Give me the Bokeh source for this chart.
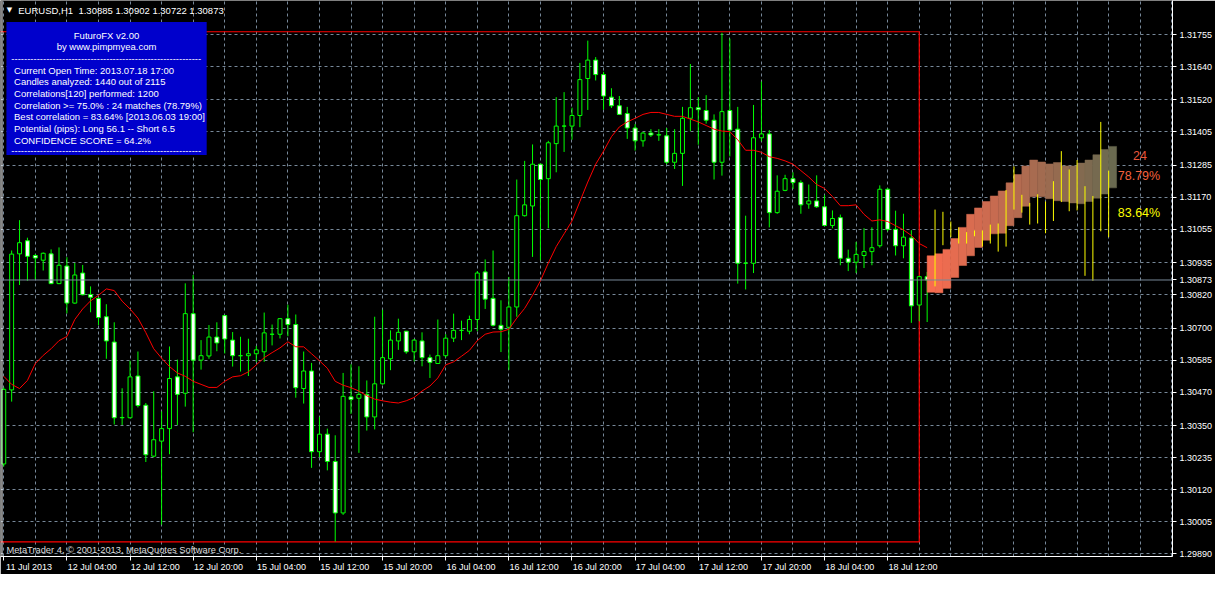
from bokeh.plotting import figure
from bokeh.models import Range1d, FixedTicker, Span, Label, BoxAnnotation, ColumnDataSource
from bokeh.embed import file_html
from bokeh.resources import INLINE

# ---------------- data (EURUSD H1) ----------------
opens = [1.30212, 1.30478, 1.30967, 1.31014, 1.30961, 1.30944, 1.30967, 1.30860, 1.30923, 1.30790,
         1.30898, 1.30821, 1.30807, 1.30741, 1.30650, 1.30378, 1.30378, 1.30528, 1.30423, 1.30240,
         1.30294, 1.30339, 1.30525, 1.30466, 1.30752, 1.30585, 1.30600, 1.30668, 1.30745, 1.30657,
         1.30601, 1.30601, 1.30608, 1.30615, 1.30678, 1.30678, 1.30734, 1.30713, 1.30483, 1.30546,
         1.30256, 1.30319, 1.30221, 1.30036, 1.30453, 1.30448, 1.30462, 1.30381, 1.30500, 1.30590,
         1.30654, 1.30689, 1.30615, 1.30654, 1.30594, 1.30573, 1.30601, 1.30664, 1.30692, 1.30689,
         1.30731, 1.30902, 1.30807, 1.30710, 1.30703, 1.30776, 1.31104, 1.31139, 1.31289, 1.31237,
         1.31363, 1.31426, 1.31426, 1.31464, 1.31597, 1.31663, 1.31611, 1.31530, 1.31499, 1.31471,
         1.31419, 1.31373, 1.31401, 1.31394, 1.31391, 1.31296, 1.31328, 1.31454, 1.31492, 1.31482,
         1.31447, 1.31296, 1.31482, 1.31415, 1.30933, 1.30933, 1.31384, 1.31398, 1.31115, 1.31195,
         1.31237, 1.31223, 1.31146, 1.31157, 1.31136, 1.31069, 1.31097, 1.30951, 1.30937, 1.30961,
         1.30975, 1.30996, 1.31199, 1.31055, 1.30996, 1.31024, 1.30783, 1.30885]
highs = [1.30487, 1.30979, 1.31088, 1.31025, 1.30966, 1.30972, 1.30983, 1.30990, 1.30955, 1.30934,
         1.30927, 1.30850, 1.30809, 1.30786, 1.30721, 1.30484, 1.30583, 1.30616, 1.30431, 1.30473,
         1.30401, 1.30634, 1.30587, 1.30861, 1.30891, 1.30657, 1.30711, 1.30721, 1.30747, 1.30686,
         1.30669, 1.30662, 1.30636, 1.30756, 1.30713, 1.30736, 1.30784, 1.30749, 1.30616, 1.30575,
         1.30381, 1.30339, 1.30315, 1.30539, 1.30570, 1.30563, 1.30512, 1.30741, 1.30766, 1.30692,
         1.30734, 1.30690, 1.30661, 1.30685, 1.30605, 1.30731, 1.30678, 1.30752, 1.30727, 1.30745,
         1.30905, 1.30947, 1.30979, 1.30800, 1.30884, 1.31234, 1.31301, 1.31360, 1.31291, 1.31373,
         1.31530, 1.31548, 1.31492, 1.31653, 1.31733, 1.31674, 1.31621, 1.31562, 1.31534, 1.31495,
         1.31433, 1.31405, 1.31415, 1.31415, 1.31419, 1.31415, 1.31495, 1.31649, 1.31530, 1.31537,
         1.31468, 1.31761, 1.31740, 1.31495, 1.31104, 1.31502, 1.31586, 1.31412, 1.31249, 1.31251,
         1.31260, 1.31231, 1.31216, 1.31249, 1.31178, 1.31123, 1.31108, 1.30982, 1.31010, 1.31059,
         1.31062, 1.31213, 1.31203, 1.31122, 1.31111, 1.31052, 1.30888, 1.30902]
lows = [1.30203, 1.30436, 1.30855, 1.30870, 1.30876, 1.30907, 1.30858, 1.30858, 1.30753, 1.30788,
        1.30818, 1.30757, 1.30711, 1.30590, 1.30354, 1.30352, 1.30376, 1.30415, 1.30219, 1.30236,
        1.29994, 1.30247, 1.30352, 1.30418, 1.30326, 1.30551, 1.30590, 1.30617, 1.30609, 1.30562,
        1.30544, 1.30528, 1.30579, 1.30579, 1.30638, 1.30663, 1.30671, 1.30450, 1.30429, 1.30198,
        1.30236, 1.30189, 1.29933, 1.30029, 1.30392, 1.30252, 1.30332, 1.30336, 1.30497, 1.30549,
        1.30622, 1.30608, 1.30580, 1.30563, 1.30521, 1.30572, 1.30594, 1.30650, 1.30657, 1.30678,
        1.30689, 1.30769, 1.30706, 1.30614, 1.30550, 1.30741, 1.31101, 1.30956, 1.30944, 1.31059,
        1.31260, 1.31333, 1.31377, 1.31422, 1.31484, 1.31590, 1.31485, 1.31491, 1.31466, 1.31380,
        1.31338, 1.31352, 1.31387, 1.31373, 1.31289, 1.31272, 1.31211, 1.31408, 1.31359, 1.31435,
        1.31234, 1.31248, 1.31317, 1.30860, 1.30839, 1.30898, 1.31371, 1.31062, 1.31111, 1.31192,
        1.31200, 1.31111, 1.31129, 1.31132, 1.31066, 1.31059, 1.30926, 1.30905, 1.30898, 1.30916,
        1.30926, 1.30989, 1.31048, 1.30961, 1.30951, 1.30719, 1.30725, 1.30722]
closes = [1.30480, 1.30966, 1.31007, 1.30958, 1.30952, 1.30969, 1.30860, 1.30926, 1.30790, 1.30891,
          1.30820, 1.30811, 1.30738, 1.30654, 1.30378, 1.30379, 1.30525, 1.30422, 1.30245, 1.30299,
          1.30339, 1.30519, 1.30462, 1.30752, 1.30585, 1.30601, 1.30668, 1.30647, 1.30661, 1.30601,
          1.30601, 1.30608, 1.30622, 1.30683, 1.30678, 1.30734, 1.30713, 1.30486, 1.30546, 1.30256,
          1.30319, 1.30221, 1.30036, 1.30455, 1.30444, 1.30462, 1.30381, 1.30500, 1.30594, 1.30657,
          1.30685, 1.30615, 1.30657, 1.30594, 1.30577, 1.30601, 1.30664, 1.30692, 1.30692, 1.30731,
          1.30898, 1.30804, 1.30710, 1.30696, 1.30776, 1.31104, 1.31143, 1.31289, 1.31234, 1.31366,
          1.31426, 1.31426, 1.31464, 1.31593, 1.31663, 1.31611, 1.31534, 1.31499, 1.31468, 1.31419,
          1.31373, 1.31401, 1.31394, 1.31395, 1.31296, 1.31328, 1.31454, 1.31492, 1.31485, 1.31447,
          1.31296, 1.31478, 1.31412, 1.30933, 1.30933, 1.31384, 1.31398, 1.31115, 1.31192, 1.31237,
          1.31223, 1.31143, 1.31157, 1.31136, 1.31069, 1.31094, 1.30951, 1.30937, 1.30965, 1.30975,
          1.30989, 1.31199, 1.31055, 1.30996, 1.31027, 1.30780, 1.30885, 1.30873]
ma_values = [1.30527, 1.30498, 1.30483, 1.30512, 1.30573, 1.30602, 1.30626, 1.30655, 1.30670, 1.30731,
             1.30769, 1.30798, 1.30818, 1.30841, 1.30835, 1.30797, 1.30769, 1.30736, 1.30684, 1.30626,
             1.30592, 1.30562, 1.30539, 1.30527, 1.30509, 1.30498, 1.30487, 1.30487, 1.30509, 1.30525,
             1.30529, 1.30543, 1.30568, 1.30594, 1.30612, 1.30629, 1.30651, 1.30633, 1.30633, 1.30608,
             1.30583, 1.30556, 1.30509, 1.30495, 1.30486, 1.30474, 1.30457, 1.30445, 1.30439, 1.30434,
             1.30431, 1.30439, 1.30451, 1.30474, 1.30492, 1.30521, 1.30568, 1.30579, 1.30599, 1.30620,
             1.30655, 1.30678, 1.30686, 1.30687, 1.30696, 1.30736, 1.30771, 1.30818, 1.30870, 1.30934,
             1.30993, 1.31039, 1.31085, 1.31155, 1.31225, 1.31289, 1.31336, 1.31388, 1.31423, 1.31441,
             1.31454, 1.31468, 1.31475, 1.31475, 1.31468, 1.31461, 1.31461, 1.31451, 1.31441, 1.31428,
             1.31415, 1.31408, 1.31406, 1.31377, 1.31339, 1.31339, 1.31332, 1.31316, 1.31310, 1.31301,
             1.31289, 1.31266, 1.31243, 1.31216, 1.31202, 1.31173, 1.31140, 1.31140, 1.31143, 1.31109,
             1.31085, 1.31089, 1.31083, 1.31068, 1.31053, 1.31033, 1.31004, 1.30989]

# projected corridor (24 future bars)
proj_top = [1.30960, 1.30967, 1.30983, 1.31022, 1.31062, 1.31109, 1.31132, 1.31155, 1.31175, 1.31193,
            1.31222, 1.31252, 1.31283, 1.31304, 1.31297, 1.31290, 1.31295, 1.31283, 1.31283, 1.31293,
            1.31304, 1.31323, 1.31342, 1.31353]
proj_bottom = [1.30829, 1.30827, 1.30843, 1.30882, 1.30925, 1.30960, 1.30990, 1.31016, 1.31039, 1.31041,
               1.31068, 1.31097, 1.31138, 1.31172, 1.31172, 1.31165, 1.31158, 1.31155, 1.31150, 1.31147,
               1.31155, 1.31167, 1.31182, 1.31204]
# best-match future ranges
range_high = [1.31126, 1.31118, 1.31083, 1.31062, 1.31045, 1.31051, 1.31051, 1.31072, 1.31076, 1.31196,
              1.31281, 1.31179, 1.31150, 1.31181, 1.31155, 1.31228, 1.31336, 1.31270, 1.31304, 1.31210,
              1.31175, 1.31441, 1.31266]
range_low = [1.30850, 1.30998, 1.31027, 1.31004, 1.31004, 1.31030, 1.30993, 1.31004, 1.30975, 1.30993,
             1.31126, 1.31115, 1.31072, 1.31076, 1.31041, 1.31085, 1.31153, 1.31120, 1.31123, 1.30888,
             1.30870, 1.31048, 1.31027]

# analysis window rectangle
window_start_bar = -30
window_end_bar = 116
window_high = 1.31765
window_low = 1.29932

price_ticks = [1.29890, 1.30005, 1.30120, 1.30235, 1.30350, 1.30470, 1.30585, 1.30700, 1.30820,
               1.30935, 1.31055, 1.31170, 1.31285, 1.31405, 1.31520, 1.31640, 1.31755]
label_bars = [0, 8, 16, 24, 32, 40, 48, 56, 64, 72, 80, 88, 96, 104, 112]
time_labels = ["11 Jul 2013", "12 Jul 04:00", "12 Jul 12:00", "12 Jul 20:00", "15 Jul 04:00",
               "15 Jul 12:00", "15 Jul 20:00", "16 Jul 04:00", "16 Jul 12:00", "16 Jul 20:00",
               "17 Jul 04:00", "17 Jul 12:00", "17 Jul 20:00", "18 Jul 04:00", "18 Jul 12:00"]

header_text = "EURUSD,H1\u00a0 1.30885 1.30902 1.30722 1.30873"
info_title = ["FuturoFX v2.00", "by www.pimpmyea.com"]
info_lines = ["Current Open Time: 2013.07.18 17:00",
              "Candles analyzed: 1440 out of 2115",
              "Correlations[120] performed: 1200",
              "Correlation >= 75.0% : 24 matches (78.79%)",
              "Best correlation = 83.64% [2013.06.03 19:00]",
              "Potential (pips): Long 56.1 -- Short 6.5",
              "CONFIDENCE SCORE = 64.2%"]
matches_text, match_pct_text, best_pct_text = "24", "78.79%", "83.64%"

# ---------------- layout helpers (screen reference -> plot coords, decorations only) ----------------
def dx(px):
    return (px - 3.3) / 8.0


def dy(py):
    return 1.30 + (537.5 - py) * 3.4925e-5


FONT = "Liberation Sans"
GREEN = "#00FF00"
GRID = "#778899"

n = len(opens)
bars = list(range(n))
proj_bars = list(range(n - 1, n - 1 + len(proj_top)))
range_bars = list(range(n, n + len(range_high)))
last_price = closes[-1]

p = figure(width=1215, height=574, output_backend="svg", toolbar_location=None,
           x_range=Range1d(dx(0), dx(1188)), y_range=Range1d(dy(572), dy(0)),
           y_axis_location="right",
           min_border_left=0, min_border_top=0, min_border_right=0, min_border_bottom=0)
p.background_fill_color = "black"
p.border_fill_color = "black"
p.outline_line_color = None

# grid
p.xgrid.ticker = FixedTicker(ticks=list(range(0, 149, 4)))
p.ygrid.ticker = FixedTicker(ticks=price_ticks)
for g in (p.xgrid[0], p.ygrid[0]):
    g.grid_line_color = GRID
    g.grid_line_dash = "3 3"
    g.grid_line_width = 1

# x axis: labels left-aligned after the tick mark (labels on shifted majors, marks as minors)
label_shift = 3.2
shifted = [b + label_shift for b in label_bars]
xa = p.xaxis[0]
xa.ticker = FixedTicker(ticks=shifted, minor_ticks=label_bars)
xa.major_label_overrides = {s: t for s, t in zip(shifted, time_labels)}
xa.major_tick_line_color = None
xa.major_tick_out = 4
xa.major_tick_in = 0
xa.minor_tick_line_color = "white"
xa.minor_tick_out = 4
xa.minor_tick_in = 0
xa.major_label_standoff = 1

ya = p.yaxis[0]
ya.ticker = FixedTicker(ticks=price_ticks + [last_price])
ya.major_label_overrides = {t: f"{t:.5f}" for t in price_ticks + [last_price]}
ya.major_label_standoff = 3
ya.major_tick_line_color = "white"
ya.major_tick_out = 4
ya.major_tick_in = 0
ya.minor_tick_line_color = None
for ax in (xa, ya):
    ax.axis_line_color = "white"
    ax.major_label_text_color = "white"
    ax.major_label_text_font = FONT
    ax.major_label_text_font_size = "9px"

# left frame border
p.add_layout(Span(location=dx(1.5), dimension="height", line_color="white", line_width=1))

# analysis window
p.quad(left=[window_start_bar], right=[window_end_bar], top=[window_high], bottom=[window_low],
       fill_color=None, line_color="#FF0000", line_width=1.2)

# candles
src = ColumnDataSource(dict(
    x=bars, o=opens, h=highs, l=lows, c=closes,
    top=[max(o, c) for o, c in zip(opens, closes)],
    bot=[min(o, c) for o, c in zip(opens, closes)],
    fill=["white" if c < o else "black" for o, c in zip(opens, closes)],
))
p.segment(x0="x", y0="l", x1="x", y1="h", line_color=GREEN, line_width=1, source=src)
p.vbar(x="x", width=0.5, top="top", bottom="bot", fill_color="fill", line_color=GREEN,
       line_width=1, source=src)

# moving average
p.line(bars, ma_values, line_color="#FF0000", line_width=1)

# projection corridor with colour gradient
c0, c1 = (248, 108, 80), (106, 106, 80)
m = len(proj_top)
cols = ["#%02x%02x%02x" % tuple(int(round(a + (b - a) * k / (m - 1))) for a, b in zip(c0, c1))
        for k in range(m)]
p.quad(left=proj_bars, right=[b + 1 for b in proj_bars], top=proj_top, bottom=proj_bottom,
       fill_color=cols, line_color=cols, line_width=0.5)
p.segment(x0=range_bars, y0=range_low, x1=range_bars, y1=range_high, line_color="#FFFF00",
          line_width=1)

# bid line
p.add_layout(Span(location=last_price, dimension="width", line_color=GRID, line_width=1))

# header
p.add_layout(Label(x=dx(9), y=dy(10), text="\u25bc", text_color="white", text_font="DejaVu Sans",
                   text_font_size="7px", text_align="center", text_baseline="middle"))
p.add_layout(Label(x=dx(18), y=dy(10), text=header_text, text_color="white", text_font=FONT,
                   text_font_size="9.5px", text_align="left", text_baseline="middle"))

# info box
p.add_layout(BoxAnnotation(left=dx(6), right=dx(209), top=dy(22), bottom=dy(159),
                           fill_color="#0000CC", fill_alpha=1.0, line_color=None))
for k, t in enumerate(info_title):
    p.add_layout(Label(x=dx(107.5), y=dy(35.7 + 12 * k), text=t, text_color="white", text_font=FONT,
                       text_font_size="9.5px", text_align="center", text_baseline="middle"))
for yy in (60, 155):
    p.add_layout(Label(x=dx(11), y=dy(yy), text="-" * 60, text_color="white", text_font=FONT,
                       text_font_size="9.5px", text_align="left", text_baseline="middle"))
for k, t in enumerate(info_lines):
    p.add_layout(Label(x=dx(13.7), y=dy(71.7 + 12 * k), text=t, text_color="white", text_font=FONT,
                       text_font_size="9.5px", text_align="left", text_baseline="middle"))

# forecast texts
p.add_layout(Label(x=dx(1155), y=dy(159.3), text=matches_text, text_color="#E8573C", text_font=FONT,
                   text_font_size="12.5px", text_align="center", text_baseline="middle"))
p.add_layout(Label(x=dx(1154), y=dy(180.7), text=match_pct_text, text_color="#F4623F", text_font=FONT,
                   text_font_size="12.5px", text_align="center", text_baseline="middle"))
p.add_layout(Label(x=dx(1154), y=dy(219), text=best_pct_text, text_color="#FFFF00", text_font=FONT,
                   text_font_size="12.5px", text_align="center", text_baseline="middle"))

# copyright
p.add_layout(Label(x=dx(6), y=dy(565), text="MetaTrader 4, \u00a9 2001-2013, MetaQuotes Software Corp.",
                   text_color="#DDDDDD", text_font=FONT, text_font_size="9.3px", text_align="left",
                   text_baseline="middle"))

open("out.html", "w").write(file_html(p, INLINE))
